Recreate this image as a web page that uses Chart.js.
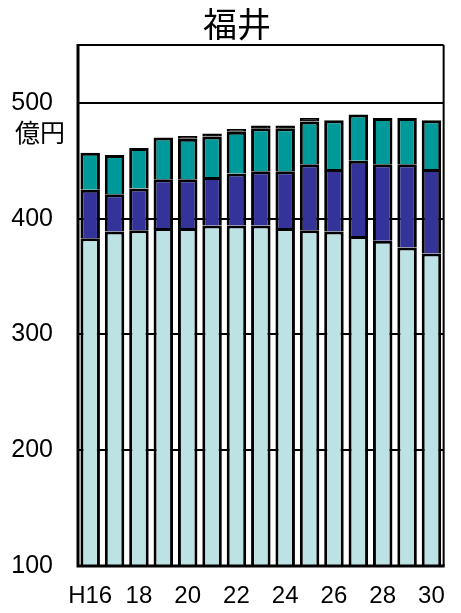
<!DOCTYPE html>
<html>
<head>
<meta charset="utf-8">
<style>
html,body{margin:0;padding:0;background:#fff;}
canvas{display:block;}
</style>
<script src="https://cdn.jsdelivr.net/npm/chart.js@4.4.1/dist/chart.umd.min.js"></script>
</head>
<body>
<canvas id="c" width="461" height="613"></canvas>
<script>
const categories = ['H16','17','18','19','20','21','22','23','24','25','26','27','28','29','30'];
const seriesA = [383, 389, 390, 392, 392, 394, 394, 394, 392, 390, 389, 385, 381, 375, 370];
const seriesB = [42, 32, 36, 42, 42, 42, 45, 47, 49, 57, 54, 65, 66, 72, 73];
const seriesC = [32, 34, 35, 36, 35, 35, 36, 37, 37, 37, 42, 40, 40, 40, 42];
const seriesD = [null, null, null, null, 2.5, 2.5, 2.5, 2.5, 2.5, 3, null, null, null, null, null];
const yTicks = [100, 200, 300, 400, 500];
const titleText = '福井';
const unitText = '億円';

const FONT = "'Liberation Sans', Arial, sans-serif";
const CJK = "'Noto Sans CJK JP', 'Noto Sans CJK SC', sans-serif";

const overlay = {
  id: 'overlay',
  afterDatasetsDraw(chart) {
    const {ctx, chartArea: a} = chart;
    ctx.save();
    ctx.strokeStyle = '#000';
    ctx.lineWidth = 2;
    ctx.beginPath();
    ctx.moveTo(a.left, a.top); ctx.lineTo(a.right, a.top);
    ctx.moveTo(a.right, a.top); ctx.lineTo(a.right, a.bottom);
    ctx.stroke();
    ctx.lineWidth = 3;
    ctx.beginPath();
    ctx.moveTo(a.left, a.top - 1); ctx.lineTo(a.left, a.bottom + 1.5);
    ctx.moveTo(a.left - 1.5, a.bottom); ctx.lineTo(a.right + 1, a.bottom);
    ctx.stroke();
    ctx.fillStyle = '#000';
    ctx.textAlign = 'center';
    ctx.textBaseline = 'middle';
    ctx.font = "34px " + CJK;
    ctx.fillText(titleText, 237, 24);
    ctx.font = "25px " + CJK;
    ctx.fillText(unitText, 40, 132);
    ctx.restore();
  }
};

const ds = (label, data, color) => ({
  label, data, backgroundColor: color, borderColor: '#000', borderWidth: 3,
  barPercentage: 0.8, categoryPercentage: 1.0, stack: 's'
});

new Chart(document.getElementById('c'), {
  type: 'bar',
  data: {
    labels: categories,
    datasets: [
      ds('A', seriesA, '#BDE2E4'),
      ds('B', seriesB, '#333399'),
      ds('C', seriesC, '#009999'),
      ds('D', seriesD, '#111111')
    ]
  },
  options: {
    responsive: false,
    animation: false,
    layout: {padding: {top: 45, right: 6, left: 0, bottom: 0}},
    plugins: {legend: {display: false}, title: {display: false}, tooltip: {enabled: false}},
    scales: {
      x: {
        stacked: true,
        grid: {display: false, drawTicks: false},
        border: {display: false},
        afterFit(scale) { scale.height = 47; },
        ticks: {
          autoSkip: false, maxRotation: 0, padding: 16, color: '#000',
          font: {family: FONT, size: 24},
          callback(v, i) { return i % 2 === 0 ? categories[i] : ''; }
        }
      },
      y: {
        stacked: true,
        min: 100, max: 550,
        afterBuildTicks(scale) { scale.ticks = yTicks.map(v => ({value: v})); },
        afterFit(scale) { scale.width = 78; },
        grid: {color: '#000', lineWidth: 2, drawTicks: false},
        border: {display: false},
        ticks: {padding: 25, color: '#000', font: {family: FONT, size: 25}}
      }
    }
  },
  plugins: [overlay]
});
</script>
</body>
</html>
